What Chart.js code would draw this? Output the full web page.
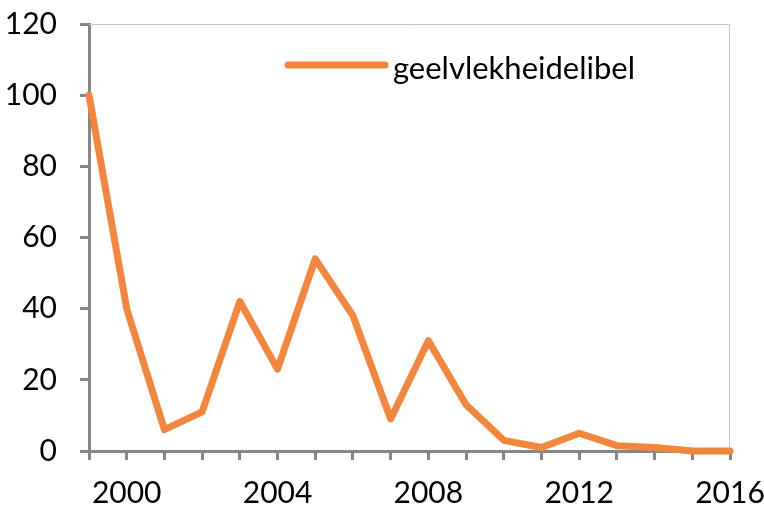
<!DOCTYPE html>
<html>
<head>
<meta charset="utf-8">
<script src="https://cdn.jsdelivr.net/npm/chart.js@4"></script>
<style>
  html, body { margin: 0; padding: 0; background: #fff; }
  #wrap { width: 764px; height: 508px; }
</style>
</head>
<body>
<div id="wrap"><canvas id="chart" width="764" height="508"></canvas></div>
<script>
// chart data
const years = [1999, 2000, 2001, 2002, 2003, 2004, 2005, 2006, 2007, 2008,
               2009, 2010, 2011, 2012, 2013, 2014, 2015, 2016];
const counts = [100, 40, 6, 11, 42, 23, 54, 38, 9, 31,
                13, 3, 1, 5, 1.5, 1, 0, 0];
const seriesName = 'geelvlekheidelibel';
const xTickLabels = [2000, 2004, 2008, 2012, 2016];
const yTicks = [0, 20, 40, 60, 80, 100, 120];

const lineColor = '#f2863d';
const axisColor = '#868686';
const fontFamily = 'Lato, "Open Sans", sans-serif';

// thin light frame on top and right of the plot area
const framePlugin = {
    id: 'frame',
    beforeDatasetsDraw(chart) {
        const { ctx, chartArea: a } = chart;
        ctx.save();
        ctx.strokeStyle = '#c4c4c4';
        ctx.lineWidth = 1;
        ctx.beginPath();
        ctx.moveTo(a.left, a.top + 0.5);
        ctx.lineTo(a.right - 0.5, a.top + 0.5);
        ctx.lineTo(a.right - 0.5, a.bottom);
        ctx.stroke();
        ctx.restore();
    }
};

// legend drawn inside the plot area
const legendPlugin = {
    id: 'insideLegend',
    afterDraw(chart) {
        const { ctx, chartArea: a } = chart;
        const ds = chart.data.datasets[0];
        const x0 = a.left + 199;
        const y = a.top + 41;
        ctx.save();
        ctx.strokeStyle = ds.borderColor;
        ctx.lineWidth = 7;
        ctx.lineCap = 'round';
        ctx.beginPath();
        ctx.moveTo(x0, y);
        ctx.lineTo(x0 + 97, y);
        ctx.stroke();
        ctx.fillStyle = '#000';
        ctx.font = '31px ' + fontFamily;
        ctx.textBaseline = 'middle';
        ctx.fillText(ds.label, x0 + 105, y + 4);
        ctx.restore();
    }
};

new Chart(document.getElementById('chart'), {
    type: 'line',
    data: {
        datasets: [{
            label: seriesName,
            data: years.map((yr, i) => ({ x: yr, y: counts[i] })),
            borderColor: lineColor,
            backgroundColor: lineColor,
            borderWidth: 7,
            borderCapStyle: 'round',
            borderJoinStyle: 'round',
            pointRadius: 0,
            tension: 0,
            clip: false
        }]
    },
    options: {
        responsive: false,
        animation: false,
        devicePixelRatio: 1,
        layout: { padding: { top: 24, right: 34, left: 0, bottom: 0 } },
        plugins: {
            legend: { display: false },
            tooltip: { enabled: false }
        },
        scales: {
            x: {
                type: 'linear',
                min: years[0],
                max: years[years.length - 1],
                afterFit(scale) {
                    scale.height = 57;
                    scale.paddingLeft = 0;
                    scale.paddingRight = 0;
                },
                afterBuildTicks(scale) {
                    scale.ticks = years.map(v => ({ value: v }));
                },
                ticks: {
                    autoSkip: false,
                    maxRotation: 0,
                    padding: 15,
                    color: '#000',
                    font: { family: fontFamily, size: 30 },
                    callback: v => xTickLabels.includes(v) ? String(v) : ''
                },
                grid: {
                    drawOnChartArea: false,
                    tickLength: 9,
                    tickWidth: 3,
                    tickColor: axisColor
                },
                border: { color: axisColor, width: 3 }
            },
            y: {
                min: 0,
                max: 120,
                afterFit(scale) {
                    scale.width = 89;
                    scale.paddingTop = 0;
                    scale.paddingBottom = 0;
                },
                afterBuildTicks(scale) {
                    scale.ticks = yTicks.map(v => ({ value: v }));
                },
                ticks: {
                    padding: 23,
                    color: '#000',
                    font: { family: fontFamily, size: 30 }
                },
                grid: {
                    drawOnChartArea: false,
                    tickLength: 9,
                    tickWidth: 3,
                    tickColor: axisColor
                },
                border: { color: axisColor, width: 3 }
            }
        }
    },
    plugins: [framePlugin, legendPlugin]
});
</script>
</body>
</html>
